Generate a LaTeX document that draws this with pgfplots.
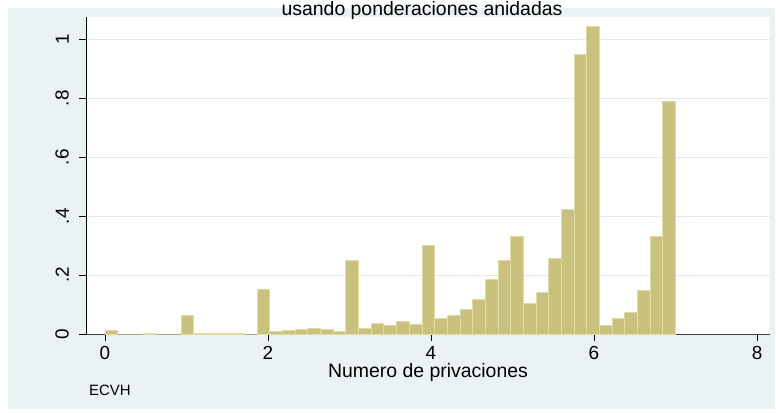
\documentclass[border=0pt]{standalone}
\usepackage{pgfplots}
\pgfplotsset{compat=1.18}
\usepackage{fontspec}
\setmainfont{Liberation Sans}
\definecolor{bggray}{RGB}{234,242,243}
\definecolor{gridc}{RGB}{226,235,238}
\definecolor{barfill}{RGB}{201,194,127}
\definecolor{baredge}{RGB}{224,218,165}
\pgfplotstableread{
x y
0.00000 0.012
0.15556 0
0.31111 0
0.46667 0.002
0.62222 0
0.77778 0
0.93333 0.064
1.08889 0.001
1.24444 0.001
1.40000 0.001
1.55556 0.003
1.71111 0
1.86667 0.150
2.02222 0.009
2.17778 0.012
2.33333 0.014
2.48889 0.019
2.64444 0.014
2.80000 0.009
2.95556 0.250
3.11111 0.020
3.26667 0.036
3.42222 0.028
3.57778 0.041
3.73333 0.034
3.88889 0.299
4.04444 0.053
4.20000 0.064
4.35556 0.085
4.51111 0.118
4.66667 0.186
4.82222 0.250
4.97778 0.331
5.13333 0.104
5.28889 0.141
5.44444 0.257
5.60000 0.424
5.75556 0.950
5.91111 1.043
6.06667 0.030
6.22222 0.054
6.37778 0.074
6.53333 0.147
6.68889 0.331
6.84444 0.790
7.00000 0
}\histdata
\begin{document}
\begin{tikzpicture}[x=1bp,y=1bp]
\clip (0,0) rectangle (776,412);
\fill[white] (0,0) rectangle (776,412);
\fill[bggray] (8,3) rectangle (775,404);
\begin{axis}[
  at={(86bp,78bp)}, anchor=south west,
  width=684bp, height=317bp, scale only axis,
  xmin=-0.2331, xmax=8.1595, ymin=0, ymax=1.0757,
  axis background/.style={fill=white},
  axis x line*=bottom, axis y line*=left,
  x axis line style={black!75, line width=0.8bp},
  y axis line style={black, line width=0.9bp},
  xtick={0,2,4,6,8},
  ytick={0,0.2,0.4,0.6,0.8,1},
  yticklabels={0,.2,.4,.6,.8,1},
  tick align=outside,
  major tick length=7bp,
  tick style={black, line width=0.8bp},
  ymajorgrids, grid style={gridc, line width=0.9bp},
  /pgf/number format/assume math mode=true,
  xticklabel style={font=\fontsize{19}{19}\selectfont, yshift=-5bp, anchor=north, inner sep=0pt},
  yticklabel style={font=\fontsize{19}{19}\selectfont, xshift=-10bp, rotate=90, anchor=south, inner sep=0pt},
  xlabel={Numero de privaciones},
  xlabel style={font=\fontsize{19.5}{19.5}\selectfont, at={(axis description cs:0.5,0)}, anchor=base, yshift=-43bp, inner sep=0pt},
]
\addplot[ybar interval, fill=barfill, draw=baredge, line width=0.9bp] table[x=x, y=y] {\histdata};
\end{axis}
\node[anchor=base, inner sep=0pt, font=\fontsize{19.5}{19.5}\selectfont] at (422,396.5) {usando ponderaciones anidadas};
\node[anchor=base west, inner sep=0pt, font=\fontsize{15}{15}\selectfont] at (89,16.5) {ECVH};
\end{tikzpicture}
\end{document}
